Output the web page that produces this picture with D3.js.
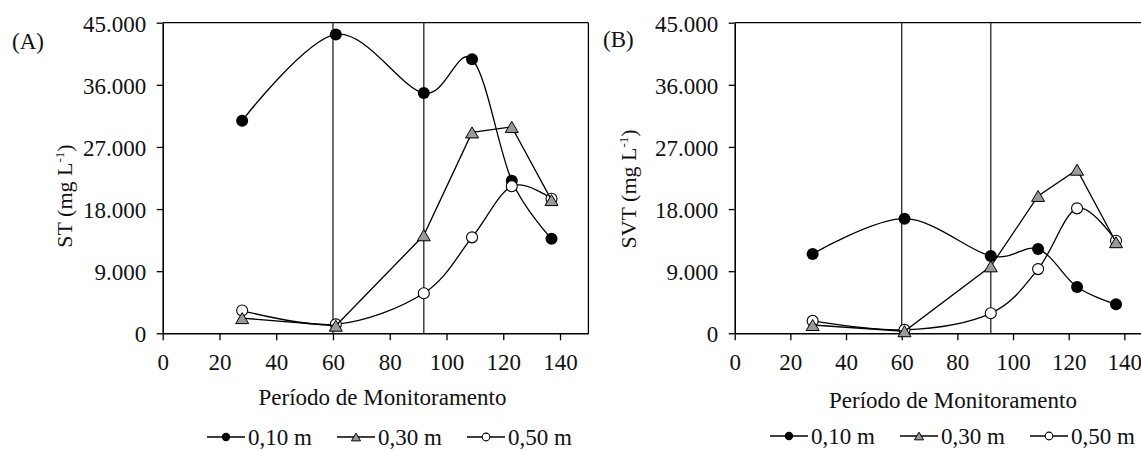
<!DOCTYPE html>
<html>
<head>
<meta charset="utf-8">
<script src="https://cdn.jsdelivr.net/npm/d3@7"></script>
<style>
  html, body { margin: 0; padding: 0; background: #fff; }
  svg { display: block; }
  text { font-family: "Liberation Serif", "Times New Roman", serif; fill: #111; }
</style>
</head>
<body>
<svg id="chart" width="1141" height="450"></svg>
<script>
// ---------- data ----------
const days = [28, 61, 92, 109, 123, 137];
const xTicks = [0, 20, 40, 60, 80, 100, 120, 140];
const yTicks = [0, 9000, 18000, 27000, 36000, 45000];
const markLines = [60, 92];
const seriesNames = ["0,10 m", "0,30 m", "0,50 m"];

// Panel A: ST (mg L-1)
const stA_010 = [30800, 43300, 34800, 39700, 22100, 13700];
const stA_030 = [2200, 1100, 14200, 29100, 29900, 19300];
const stA_050 = [3300, 1300, 5800, 13900, 21300, 19500];

// Panel B: SVT (mg L-1)
const svtB_010 = [11500, 16600, 11200, 12200, 6700, 4200];
const svtB_030 = [1200, 300, 9700, 19900, 23700, 13200];
const svtB_050 = [1800, 500, 2900, 9300, 18100, 13400];

// ---------- helpers ----------
const svg = d3.select("#chart");
const FS = 23;
const loc = d3.formatLocale({decimal: ",", thousands: ".", grouping: [3], currency: ["", ""]});
const fmt = loc.format(",");

const styles = {
  "0,10 m": {shape: "dot", curve: d3.curveCardinal.tension(0)},
  "0,30 m": {shape: "tri", curve: d3.curveLinear},
  "0,50 m": {shape: "ring", curve: d3.curveCardinal.tension(0)}
};

function drawMarker(g, shape, x, y, s) {
  if (shape === "dot") {
    g.append("circle").attr("cx", x).attr("cy", y).attr("r", 6 * s).attr("fill", "#000");
  } else if (shape === "ring") {
    g.append("circle").attr("cx", x).attr("cy", y).attr("r", 5.5 * s)
      .attr("fill", "#fff").attr("stroke", "#000").attr("stroke-width", 1.1);
  } else {
    const w = 6.5 * s, h = 5.5 * s;
    g.append("path")
      .attr("d", `M${x},${y - h}L${x + w},${y + h}L${x - w},${y + h}Z`)
      .attr("fill", "#9a9a9a").attr("stroke", "#000").attr("stroke-width", 1);
  }
}

function panel(opts) {
  const {x0, x1, label, labelX, labelY, ylabel, ylX, ylY, series, titleY, legendX, legendY, drawRight} = opts;
  const top = 22.7, bottom = 333.3;
  const x = d3.scaleLinear().domain([0, 150]).range([x0, x1]);
  const y = d3.scaleLinear().domain([0, 45000]).range([bottom, top]);
  const g = svg.append("g");

  // frame (top and right)
  g.append("line").attr("x1", x0).attr("x2", Math.min(x1, 1141)).attr("y1", top).attr("y2", top)
    .attr("stroke", "#000").attr("stroke-width", 1.3);
  if (drawRight) {
    g.append("line").attr("x1", x1).attr("x2", x1).attr("y1", top).attr("y2", bottom)
      .attr("stroke", "#000").attr("stroke-width", 1.3);
  }

  // vertical reference lines
  markLines.forEach(v => {
    g.append("line").attr("x1", x(v)).attr("x2", x(v)).attr("y1", top).attr("y2", bottom)
      .attr("stroke", "#333").attr("stroke-width", 1.4);
  });

  // axes
  const ya = g.append("g").attr("transform", `translate(${x0},0)`)
    .call(d3.axisLeft(y).tickValues(yTicks).tickFormat(fmt).tickSize(6).tickSizeOuter(0).tickPadding(10.5));
  const xa = g.append("g").attr("transform", `translate(0,${bottom})`)
    .call(d3.axisBottom(x).tickValues(xTicks).tickFormat(d3.format("d")).tickSize(7).tickSizeOuter(0).tickPadding(13));
  [ya, xa].forEach(a => {
    a.attr("font-size", FS).attr("font-family", null);
    a.select(".domain").attr("stroke", "#000").attr("stroke-width", 1.6);
    a.selectAll(".tick line").attr("stroke", "#000").attr("stroke-width", 1.3);
    a.selectAll(".tick text").attr("font-size", FS).attr("fill", "#111");
  });
  ya.selectAll(".tick text").attr("dy", "0.37em");

  // series lines then markers
  const order = ["0,10 m", "0,50 m", "0,30 m"];
  order.forEach(name => {
    const vals = series[name];
    const st = styles[name];
    const pts = days.map((d, i) => [x(d), y(vals[i])]);
    g.append("path").attr("d", d3.line().curve(st.curve)(pts))
      .attr("fill", "none").attr("stroke", "#000").attr("stroke-width", 1.3);
    const mg = g.append("g");
    pts.forEach(p => drawMarker(mg, st.shape, p[0], p[1], 1));
  });

  // panel label
  svg.append("text").attr("x", labelX).attr("y", labelY).attr("font-size", FS).text(label);

  // y label
  const yl = svg.append("text").attr("transform", `translate(${ylX},${ylY}) rotate(-90)`)
    .attr("text-anchor", "middle").attr("font-size", 22);
  yl.append("tspan").text(ylabel + " (mg L");
  yl.append("tspan").attr("font-size", 13).attr("dy", -8).text("-1");
  yl.append("tspan").attr("dy", 8).text(")");

  // x title
  svg.append("text").attr("x", opts.titleX).attr("y", titleY).attr("text-anchor", "middle")
    .attr("font-size", FS).text("Período de Monitoramento");

  // legend
  seriesNames.forEach((name, i) => {
    const lx = legendX + i * 130;
    const lg = svg.append("g");
    lg.append("line").attr("x1", lx).attr("x2", lx + 38).attr("y1", legendY - 8).attr("y2", legendY - 8)
      .attr("stroke", "#000").attr("stroke-width", 1.3);
    drawMarker(lg, styles[name].shape, lx + 19, legendY - 8, 0.7);
    lg.append("text").attr("x", lx + 41).attr("y", legendY).attr("font-size", FS).text(name);
  });
}

panel({
  x0: 162.7, x1: 588.4, drawRight: true,
  label: "(A)", labelX: 12, labelY: 49,
  ylabel: "ST", ylX: 72, ylY: 196,
  series: {"0,10 m": stA_010, "0,30 m": stA_030, "0,50 m": stA_050},
  titleX: 382.5, titleY: 405, legendX: 207, legendY: 445
});

panel({
  x0: 734.7, x1: 1152.2, drawRight: false,
  label: "(B)", labelX: 603, labelY: 47,
  ylabel: "SVT", ylX: 636, ylY: 189,
  series: {"0,10 m": svtB_010, "0,30 m": svtB_030, "0,50 m": svtB_050},
  titleX: 953, titleY: 408, legendX: 770, legendY: 444
});
</script>
</body>
</html>
